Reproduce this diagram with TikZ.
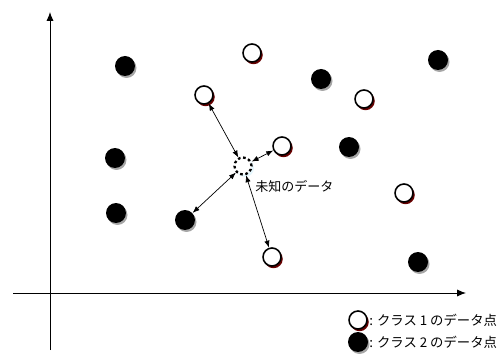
\documentclass[tikz,border=0pt]{standalone}
\usepackage{fontspec}
\newfontfamily\jp{Noto Sans CJK JP}
\usetikzlibrary{arrows.meta}
\begin{document}
\begin{tikzpicture}[x=0.02cm,y=-0.02cm,
  whitept/.style={circle,draw=black,line width=0.9pt,fill=white,minimum size=0.36cm,inner sep=0pt},
  blackpt/.style={circle,fill=black,minimum size=0.4cm,inner sep=0pt},
  rshadow/.style={circle,fill=red!40!black,minimum size=0.37cm,inner sep=0pt},
  gshadow/.style={circle,fill=black!35,minimum size=0.4cm,inner sep=0pt},
  axis/.style={line width=0.5pt,-{Latex[length=5pt,width=4pt]}},
  conn/.style={line width=0.4pt,{Latex[length=4pt,width=3pt]}-{Latex[length=4pt,width=3pt]}},
  lbl/.style={font=\jp\fontsize{7.4pt}{8pt}\selectfont,inner sep=0pt,anchor=west},
  leg/.style={font=\jp\fontsize{7.6pt}{8pt}\selectfont,inner sep=0pt,anchor=west}]
\useasboundingbox (0,0) rectangle (503,354);
% axes
\coordinate (yb) at (50,350);
\coordinate (yt) at (50,12);
\coordinate (xl) at (13,293);
\coordinate (xr) at (466,293);
\draw[axis] (yb) -- (yt);
\draw[axis] (xl) -- (xr);
% shadows
\foreach \a/\b in {252/53,204/95,364/99,282/146,404/193,272/257,358/320}
  \node[rshadow] at (\a+1.5,\b+2) {};
\foreach \a/\b in {125/66,321/79,438/60,115/158,349/147,116/213,185/220,418/262,358/342}
  \node[gshadow] at (\a+1.5,\b+2) {};
% class 1
\node[whitept] (w1) at (252,53) {};
\node[whitept] (w2) at (204,95) {};
\node[whitept] (w3) at (364,99) {};
\node[whitept] (w4) at (282,146) {};
\node[whitept] (w5) at (404,193) {};
\node[whitept] (w6) at (272,257) {};
% class 2
\node[blackpt] (b1) at (125,66) {};
\node[blackpt] (b2) at (321,79) {};
\node[blackpt] (b3) at (438,60) {};
\node[blackpt] (b4) at (115,158) {};
\node[blackpt] (b5) at (349,147) {};
\node[blackpt] (b6) at (116,213) {};
\node[blackpt] (b7) at (185,220) {};
\node[blackpt] (b8) at (418,262) {};
% unknown
\node[circle,fill=cyan!10!white,minimum size=0.36cm,inner sep=0pt] at (245,168) {};
\node[circle,draw=black,line width=1.3pt,dash pattern=on 1.5pt off 1.5pt,fill=white,minimum size=0.34cm,inner sep=0pt] (u) at (243,166) {};
\node[lbl] (ul) at (255,186) {未知のデータ};
% connectors
\draw[conn] (u) -- (w2);
\draw[conn] (u) -- (w4);
\draw[conn] (u) -- (b7);
\draw[conn] (u) -- (w6);
% legend
\node[whitept] (lw) at (358,320) {};
\node[blackpt] (lb) at (358,342) {};
\node[leg] at (369,320) {: クラス 1 のデータ点};
\node[leg] at (369,342) {: クラス 2 のデータ点};
\end{tikzpicture}
\end{document}
